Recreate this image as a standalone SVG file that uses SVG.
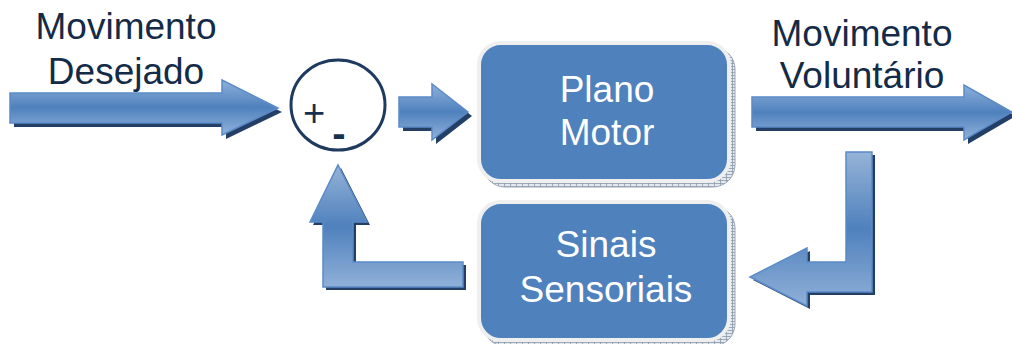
<svg xmlns="http://www.w3.org/2000/svg" width="1012" height="344" viewBox="0 0 1012 344">
  <style>
    .label { font-family: "Liberation Sans", Arial, sans-serif; font-size: 37px; fill: #142b48; text-anchor: middle; }
    .boxtext { font-family: "Liberation Sans", Arial, sans-serif; font-size: 37px; fill: #ffffff; text-anchor: middle; }
    .box { fill: #4f81bd; stroke: #efefef; stroke-width: 4; }
    .boxshadow { fill: url(#hatch); stroke: #9aa6b6; stroke-width: 1; }
    .arrow { stroke: #5b8bc8; stroke-width: 1.5; stroke-linejoin: miter; }
    .arrowshadow { fill: #233f66; }
    .sign { font-family: "Liberation Sans", Arial, sans-serif; fill: #17304f; text-anchor: middle; }
  </style>
  <defs>
    <linearGradient id="gradH" x1="0" y1="0" x2="0" y2="1">
      <stop offset="0" stop-color="#8fb0db"/>
      <stop offset="0.5" stop-color="#4f81bd"/>
      <stop offset="1" stop-color="#93b3dc"/>
    </linearGradient>
    <linearGradient id="gradV" x1="0" y1="0" x2="0" y2="1">
      <stop offset="0" stop-color="#95b3d7"/>
      <stop offset="0.5" stop-color="#4f81bd"/>
      <stop offset="1" stop-color="#90b0d8"/>
    </linearGradient>
    <pattern id="hatch" width="6" height="3" patternUnits="userSpaceOnUse">
      <rect width="6" height="3" fill="#e4e9f0"/>
      <path d="M0 0.5H6M0.5 0V3" stroke="#8c98a8" stroke-width="0.8"/>
    </pattern>
  </defs>

  <!-- text labels -->
  <g id="label-desejado">
    <text class="label" x="126" y="39">Movimento</text>
    <text class="label" x="126" y="84">Desejado</text>
  </g>
  <g id="label-voluntario">
    <text class="label" x="862" y="46">Movimento</text>
    <text class="label" x="862" y="88">Voluntário</text>
  </g>

  <!-- summing junction -->
  <g id="sum">
    <ellipse cx="338" cy="105" rx="47" ry="45" fill="#ffffff" stroke="#1f3a5f" stroke-width="3"/>
    <text class="sign" x="314" y="126" font-size="38">+</text>
    <text class="sign" x="339" y="147" font-size="40" font-weight="bold">-</text>
  </g>

  <!-- Plano Motor -->
  <g id="plano-motor">
    <rect class="boxshadow" x="483" y="47" width="252" height="140" rx="22"/>
    <rect class="box" x="479" y="43" width="250" height="138" rx="22"/>
    <text class="boxtext" x="607" y="102">Plano</text>
    <text class="boxtext" x="607" y="145">Motor</text>
  </g>

  <!-- Sinais Sensoriais -->
  <g id="sinais-sensoriais">
    <rect class="boxshadow" x="483" y="206" width="252" height="140" rx="22"/>
    <rect class="box" x="479" y="202" width="250" height="138" rx="22"/>
    <text class="boxtext" x="606" y="257">Sinais</text>
    <text class="boxtext" x="606" y="302">Sensoriais</text>
  </g>

  <!-- block arrows -->
  <g id="connectors">
    <!-- input -->
    <path class="arrowshadow" transform="translate(4,4)" d="M10,93 L222,93 L222,80 L278,108 L222,135 L222,123 L10,123 Z"/>
    <path class="arrow" fill="url(#gradH)" d="M10,93 L222,93 L222,80 L278,108 L222,135 L222,123 L10,123 Z"/>
    <!-- junction to plan -->
    <path class="arrowshadow" transform="translate(4,4)" d="M399,97 L432,97 L432,84 L468,112 L432,140 L432,127 L399,127 Z"/>
    <path class="arrow" fill="url(#gradH)" d="M399,97 L432,97 L432,84 L468,112 L432,140 L432,127 L399,127 Z"/>
    <!-- output -->
    <path class="arrowshadow" transform="translate(4,4)" d="M752,97 L964,97 L964,85 L1012,112 L964,140 L964,127 L752,127 Z"/>
    <path class="arrow" fill="url(#gradH)" d="M752,97 L964,97 L964,85 L1012,112 L964,140 L964,127 L752,127 Z"/>
    <!-- output to sensors -->
    <path class="arrowshadow" transform="translate(3,3)" d="M846,152 L872,152 L872,292 L807,292 L807,306 L750,277 L807,248 L807,262 L846,262 Z"/>
    <path class="arrow" fill="url(#gradV)" d="M846,152 L872,152 L872,292 L807,292 L807,306 L750,277 L807,248 L807,262 L846,262 Z"/>
    <!-- sensors to junction -->
    <path class="arrowshadow" transform="translate(3,3)" d="M463,262 L463,287 L323,287 L323,222 L310,222 L338,165 L367,222 L353,222 L353,262 Z"/>
    <path class="arrow" fill="url(#gradV)" d="M463,262 L463,287 L323,287 L323,222 L310,222 L338,165 L367,222 L353,222 L353,262 Z"/>
  </g>
</svg>
